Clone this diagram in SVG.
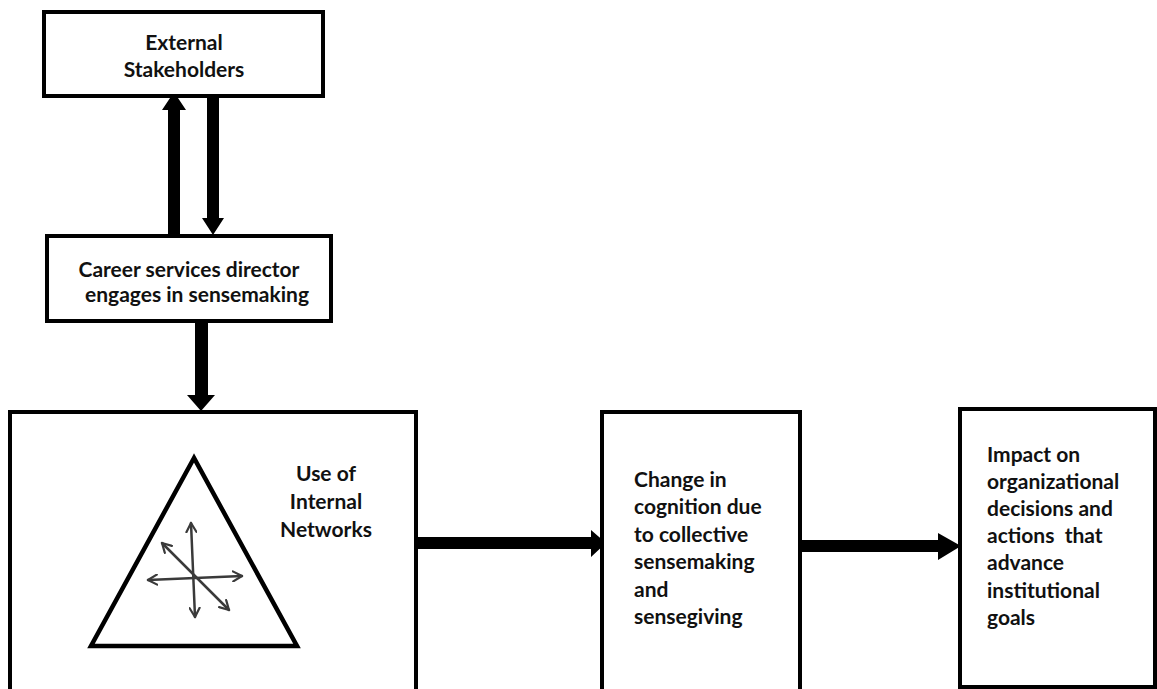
<svg xmlns="http://www.w3.org/2000/svg" width="1157" height="689" viewBox="0 0 1157 689">
<defs>
<style>
.box{fill:#fff;stroke:#000;stroke-width:4}
.t{font-family:Lato,"Open Sans","Liberation Sans",sans-serif;font-weight:700;font-size:21px;fill:#111}
.c{text-anchor:middle}
.arr{fill:#000}
.net{stroke:#3a3a3a;stroke-width:2.5;fill:none;stroke-linecap:round;stroke-linejoin:round}
</style>
<marker id="chev" viewBox="0 0 12 12" refX="10" refY="6" markerWidth="12" markerHeight="12" markerUnits="userSpaceOnUse" orient="auto-start-reverse">
<path d="M1,1 L10,6 L1,11" fill="none" stroke="#3a3a3a" stroke-width="2.2" stroke-linecap="round" stroke-linejoin="round"/>
</marker>
</defs>
<rect width="1157" height="689" fill="#fff"/>

<g id="connectors">
<path class="arr" d="M168,234 V110 H162 L174,92 L186,110 H180 V234 Z"/>
<path class="arr" d="M207,96 V218 H202 L213,235 L224,218 H219 V96 Z"/>
<path class="arr" d="M195,321 V395 H187 L201,411 L215,395 H208 V321 Z"/>
<path class="arr" d="M416,537 H591 V530 L606,543 L591,557 V549 H416 Z"/>
<path class="arr" d="M800,540 H938 V533 L961,546 L938,560 V552 H800 Z"/>
</g>

<g id="external-stakeholders">
<rect class="box" x="44" y="12" width="279" height="84"/>
<text class="t c" x="184" y="50">External</text>
<text class="t c" x="184" y="77">Stakeholders</text>
</g>

<g id="career-services-director">
<rect class="box" x="47" y="236" width="284" height="85"/>
<text class="t c" x="189" y="277">Career services director</text>
<text class="t c" x="197" y="302">engages in sensemaking</text>
</g>

<g id="internal-networks">
<rect class="box" x="10" y="412" width="406" height="300"/>
<polygon points="194,458 91,646 297,646" fill="none" stroke="#000" stroke-width="4.5" stroke-linejoin="miter"/>
<line class="net" x1="191" y1="523" x2="195" y2="617" marker-start="url(#chev)" marker-end="url(#chev)"/>
<line class="net" x1="148" y1="580" x2="242" y2="576" marker-start="url(#chev)" marker-end="url(#chev)"/>
<line class="net" x1="162" y1="543" x2="229" y2="610" marker-start="url(#chev)" marker-end="url(#chev)"/>
<text class="t c" x="326" y="481">Use of</text>
<text class="t c" x="326" y="509">Internal</text>
<text class="t c" x="326" y="537">Networks</text>
</g>

<g id="change-in-cognition">
<rect class="box" x="602" y="412" width="198" height="300"/>
<text class="t" x="634" y="487">Change in</text>
<text class="t" x="634" y="514">cognition due</text>
<text class="t" x="634" y="542">to collective</text>
<text class="t" x="634" y="569">sensemaking</text>
<text class="t" x="634" y="597">and</text>
<text class="t" x="634" y="624">sensegiving</text>
</g>

<g id="impact-on-decisions">
<rect class="box" x="960" y="409" width="195" height="278"/>
<text class="t" x="987" y="462">Impact on</text>
<text class="t" x="987" y="489">organizational</text>
<text class="t" x="987" y="516">decisions and</text>
<text class="t" x="987" y="543" xml:space="preserve">actions  that</text>
<text class="t" x="987" y="570">advance</text>
<text class="t" x="987" y="598">institutional</text>
<text class="t" x="987" y="625">goals</text>
</g>
</svg>
